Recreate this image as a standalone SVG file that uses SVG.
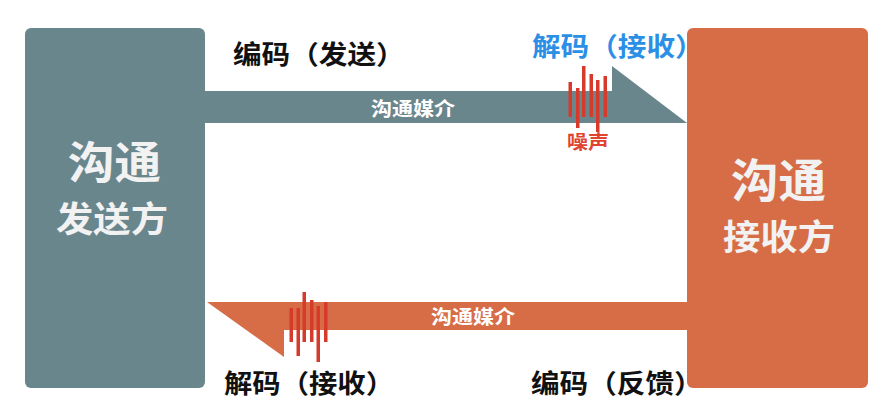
<svg xmlns="http://www.w3.org/2000/svg" width="893" height="412" viewBox="0 0 893 412">
<style>
text{font-family:"Noto Sans CJK SC","Noto Sans",sans-serif;font-weight:700}
.box-t{fill:#f2f2f2}
.lbl{fill:#111111;font-size:26px}
.blue{fill:#2b8fe6;font-size:26px}
.med{fill:#ffffff}
.noise{fill:#d63a2a}
.noise-t{fill:#e0432f}
</style>
<rect width="893" height="412" fill="#ffffff"/>
<g id="connectors">
  <g id="arrow-send">
    <polygon points="205,91 612,91 612,66 687,123 205,123" fill="#6a868d"/>
    <text class="med" x="371" y="115.5" font-size="19" textLength="84" lengthAdjust="spacingAndGlyphs">沟通媒介</text>
  </g>
  <g id="arrow-feedback">
    <polygon points="687,302 207,302 284,357 284,330 687,330" fill="#d66d47"/>
    <text class="med" x="431" y="323.5" font-size="19" textLength="84" lengthAdjust="spacingAndGlyphs">沟通媒介</text>
  </g>
</g>
<g id="sender">
  <rect x="25" y="28" width="180" height="360" rx="6" fill="#6a868d"/>
  <text class="box-t" x="68" y="179" font-size="44" textLength="93" lengthAdjust="spacingAndGlyphs">沟通</text>
  <text class="box-t" x="56" y="232" font-size="35" textLength="112" lengthAdjust="spacingAndGlyphs">发送方</text>
</g>
<g id="receiver">
  <rect x="687" y="28" width="181" height="360" rx="6" fill="#d66d47"/>
  <text class="box-t" x="731" y="197" font-size="46" textLength="95" lengthAdjust="spacingAndGlyphs">沟通</text>
  <text class="box-t" x="723" y="249.5" font-size="35" textLength="112" lengthAdjust="spacingAndGlyphs">接收方</text>
</g>
<g id="noise-top">
  <rect class="noise" x="568.5" y="82" width="3.5" height="35"/>
  <rect class="noise" x="576" y="88" width="3.5" height="40"/>
  <rect class="noise" x="582" y="66" width="3.5" height="51"/>
  <rect class="noise" x="589.5" y="74" width="3.5" height="43"/>
  <rect class="noise" x="596" y="80" width="3.5" height="52"/>
  <rect class="noise" x="603.5" y="76" width="3.5" height="41"/>
  <text class="noise-t" x="567" y="149" font-size="19" textLength="42" lengthAdjust="spacingAndGlyphs">噪声</text>
</g>
<g id="noise-bottom">
  <rect class="noise" x="289.5" y="308" width="3.5" height="34"/>
  <rect class="noise" x="296.5" y="308" width="3.5" height="48"/>
  <rect class="noise" x="302.5" y="292" width="3.5" height="50"/>
  <rect class="noise" x="310" y="300" width="3.5" height="42"/>
  <rect class="noise" x="316.5" y="306" width="3.5" height="56"/>
  <rect class="noise" x="324" y="302" width="3.5" height="40"/>
</g>
<g id="labels">
  <text class="lbl" transform="translate(233,64) scale(1.1,1)"><tspan x="0">编码</tspan><tspan x="52">（</tspan><tspan x="78">发送</tspan><tspan x="130">）</tspan></text>
  <text class="blue" transform="translate(532,56) scale(1.1,1)"><tspan x="0">解码</tspan><tspan x="52">（</tspan><tspan x="78">接收</tspan><tspan x="130">）</tspan></text>
  <text class="lbl" transform="translate(224,393) scale(1.09,1)"><tspan x="0">解码</tspan><tspan x="52">（</tspan><tspan x="78">接收</tspan><tspan x="130">）</tspan></text>
  <text class="lbl" transform="translate(531,393) scale(1.1,1)"><tspan x="0">编码</tspan><tspan x="52">（</tspan><tspan x="78">反馈</tspan><tspan x="130">）</tspan></text>
</g>
</svg>
